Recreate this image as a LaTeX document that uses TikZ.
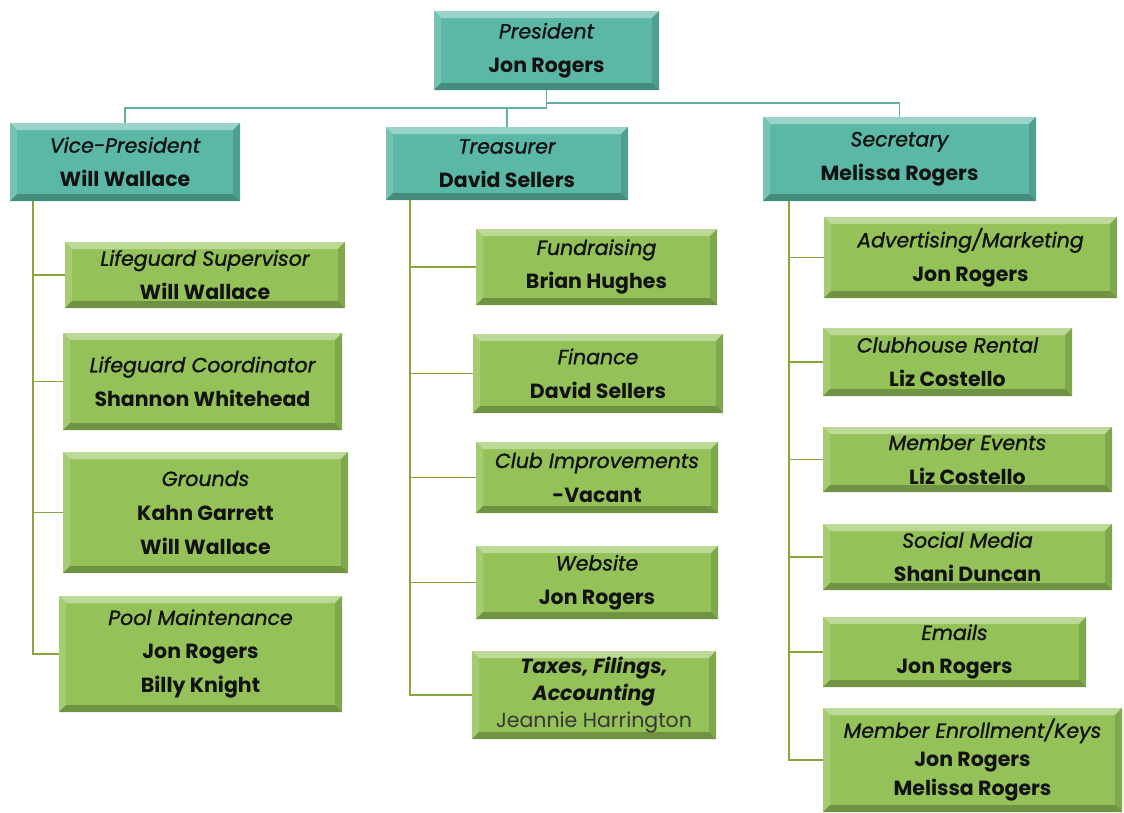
\documentclass[tikz,border=0pt]{standalone}
\usepackage{fontspec}
\setmainfont{Poppins}
\newfontfamily\ttlfont{Poppins}[FakeBold=1.2]
\definecolor{tealbase}{RGB}{92,184,166}
\definecolor{greenbase}{RGB}{148,194,88}
\definecolor{tealline}{RGB}{95,178,163}
\definecolor{greenline}{RGB}{136,166,58}
\definecolor{txt}{RGB}{18,18,18}
\tikzset{
  bevel/.style={path picture={
    \coordinate (bnw) at (path picture bounding box.north west);
    \coordinate (bne) at (path picture bounding box.north east);
    \coordinate (bsw) at (path picture bounding box.south west);
    \coordinate (bse) at (path picture bounding box.south east);
    \fill[#1!62!white] (bnw) -- (bne) -- ([shift={(-7,7)}]bne) -- ([shift={(7,7)}]bnw) -- cycle;
    \fill[#1!84!white] (bnw) -- (bsw) -- ([shift={(7,-7)}]bsw) -- ([shift={(7,7)}]bnw) -- cycle;
    \fill[#1!86!black] (bne) -- (bse) -- ([shift={(-7,-7)}]bse) -- ([shift={(-7,7)}]bne) -- cycle;
    \fill[#1!76!black] (bsw) -- (bse) -- ([shift={(-7,-7)}]bse) -- ([shift={(7,-7)}]bsw) -- cycle;
  }},
  rolebox/.style={rectangle, inner sep=0pt, outer sep=0pt, text=txt, align=center,
    font=\fontsize{20.5}{34}\selectfont},
  tealbox/.style={rolebox, fill=tealbase, bevel=tealbase},
  greenbox/.style={rolebox, fill=greenbase, bevel=greenbase},
  tealconn/.style={draw=tealline, line width=1.5pt},
  greenconn/.style={draw=greenline, line width=1.5pt},
}
\newcommand{\orgbox}[7]{%
  \node[#6, minimum width={(#4-#2)*1pt}, minimum height={(#5-#3)*1pt}]
    (#1) at ({(#2+#4)/2},{(#3+#5)/2}) {#7};}
\newcommand{\ttl}[1]{{\ttlfont\itshape #1}}
\newcommand{\who}[1]{\textbf{#1}}
\begin{document}
\begin{tikzpicture}[x=1pt,y=-1pt]
\useasboundingbox (0,0) rectangle (1124,812);
% top level
\orgbox{pres}{434}{11}{659}{90}{tealbox}{\ttl{President}\\\who{Jon Rogers}}
\orgbox{vp}{10}{123}{240}{201}{tealbox}{\ttl{Vice-President}\\\who{Will Wallace}}
\orgbox{tre}{386}{127}{628}{200}{tealbox}{\ttl{Treasurer}\\\who{David Sellers}}
\orgbox{sec}{763}{117}{1036}{201}{tealbox}{\ttl{Secretary}\\\who{Melissa Rogers}}
% VP children
\orgbox{ls}{65}{242}{345}{308}{greenbox}{\ttl{Lifeguard Supervisor}\\\who{Will Wallace}}
\orgbox{lc}{63}{333}{342}{430}{greenbox}{\ttl{Lifeguard Coordinator}\\\who{Shannon Whitehead}}
\orgbox{gr}{63}{452}{348}{573}{greenbox}{\ttl{Grounds}\\\who{Kahn Garrett}\\\who{Will Wallace}}
\orgbox{pm}{59}{596}{342}{712}{greenbox}{\ttl{Pool Maintenance}\\\who{Jon Rogers}\\\who{Billy Knight}}
% Treasurer children
\orgbox{fu}{476}{229}{717}{305}{greenbox}{\ttl{Fundraising}\\\who{Brian Hughes}}
\orgbox{fi}{473}{334}{723}{413}{greenbox}{\ttl{Finance}\\\who{David Sellers}}
\orgbox{ci}{476}{442}{718}{513}{greenbox}{\ttl{Club Improvements}\\\who{-Vacant}}
\orgbox{we}{476}{546}{718}{619}{greenbox}{\ttl{Website}\\\who{Jon Rogers}}
\orgbox{ta}{472}{651}{716}{739}{greenbox, font=\fontsize{20.5}{27}\selectfont}{\textbf{\itshape Taxes, Filings,}\\\textbf{\itshape Accounting}\\{\color{txt!85!white}Jeannie Harrington}}
% Secretary children
\orgbox{am}{824}{217}{1117}{298}{greenbox}{\ttl{Advertising/Marketing}\\\who{Jon Rogers}}
\orgbox{cr}{823}{328}{1072}{396}{greenbox}{\ttl{Clubhouse Rental}\\\who{Liz Costello}}
\orgbox{me}{823}{427}{1112}{492}{greenbox}{\ttl{Member Events}\\\who{Liz Costello}}
\orgbox{sm}{823}{524}{1112}{590}{greenbox}{\ttl{Social Media}\\\who{Shani Duncan}}
\orgbox{em}{823}{617}{1086}{687}{greenbox}{\ttl{Emails}\\\who{Jon Rogers}}
\orgbox{mk}{823}{708}{1122}{812}{greenbox, font=\fontsize{20.5}{29}\selectfont}{\ttl{Member Enrollment/Keys}\\\who{Jon Rogers}\\\who{Melissa Rogers}}
% top-level connectors
\draw[tealconn] (pres.south) -- ++(0,18) coordinate (j1) -| (vp.north);
\draw[tealconn] (j1) -| (tre.north);
\draw[tealconn] (pres.south) -- ++(0,13) -| (sec.north);
% VP connectors
\foreach \c in {ls,lc,gr,pm}
  \draw[greenconn] ([xshift=23pt]vp.south west) |- (\c.west);
% Treasurer connectors
\foreach \c in {fu,fi,ci,we,ta}
  \draw[greenconn] ([xshift=24pt]tre.south west) |- (\c.west);
% Secretary connectors
\foreach \c in {am,cr,me,sm,em,mk}
  \draw[greenconn] ([xshift=26pt]sec.south west) |- (\c.west);
\end{tikzpicture}
\end{document}
